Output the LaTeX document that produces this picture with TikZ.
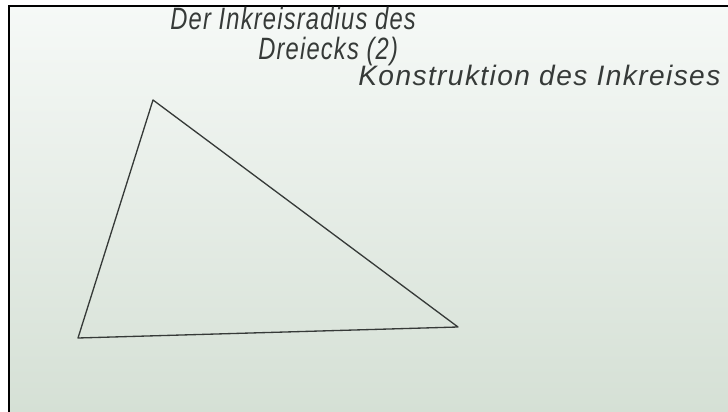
\documentclass[tikz,border=0pt]{standalone}
\usepackage{fontspec}
\setmainfont{Liberation Sans}
\newfontfamily\hand{Liberation Sans}[LetterSpace=5]
\usepackage{tikz}
\usetikzlibrary{positioning}

\definecolor{boardtop}{HTML}{F6F9F7}
\definecolor{boardbot}{HTML}{D5E0D5}
\definecolor{pen}{HTML}{363A38}

\tikzset{
	handtext/.style={anchor=base west, text=pen, inner sep=0pt},
	triline/.style={pen, line width=0.75pt, line join=round}
}

\begin{document}
\begin{tikzpicture}[x=0.02cm, y=-0.02cm]
	\useasboundingbox (0,0) rectangle (728,412);
	\fill[white] (0,0) rectangle (728,412);
	\shade[top color=boardtop, bottom color=boardbot] (9,6) rectangle (728,412);
	\draw[black, line width=0.045cm] (9,412) -- (9,6) -- (728,6);
	% handwritten title
	\node[handtext, font=\hand\itshape\fontsize{13.5}{16}\selectfont] (title1) at (170,30) {\scalebox{1}[1.3]{Der Inkreisradius des}};
	\node[handtext, font=\hand\itshape\fontsize{13.5}{16}\selectfont] (title2) at (258,60) {\scalebox{1}[1.3]{Dreiecks (2)}};
	\node[handtext, font=\hand\itshape\fontsize{16}{19}\selectfont] (title3) at (358,86) {Konstruktion des Inkreises};
	% triangle
	\coordinate (A) at (78,338);
	\coordinate (B) at (458,327);
	\coordinate (C) at (153,100);
	\draw[triline] (A) -- (B) -- (C) -- cycle;
\end{tikzpicture}
\end{document}
